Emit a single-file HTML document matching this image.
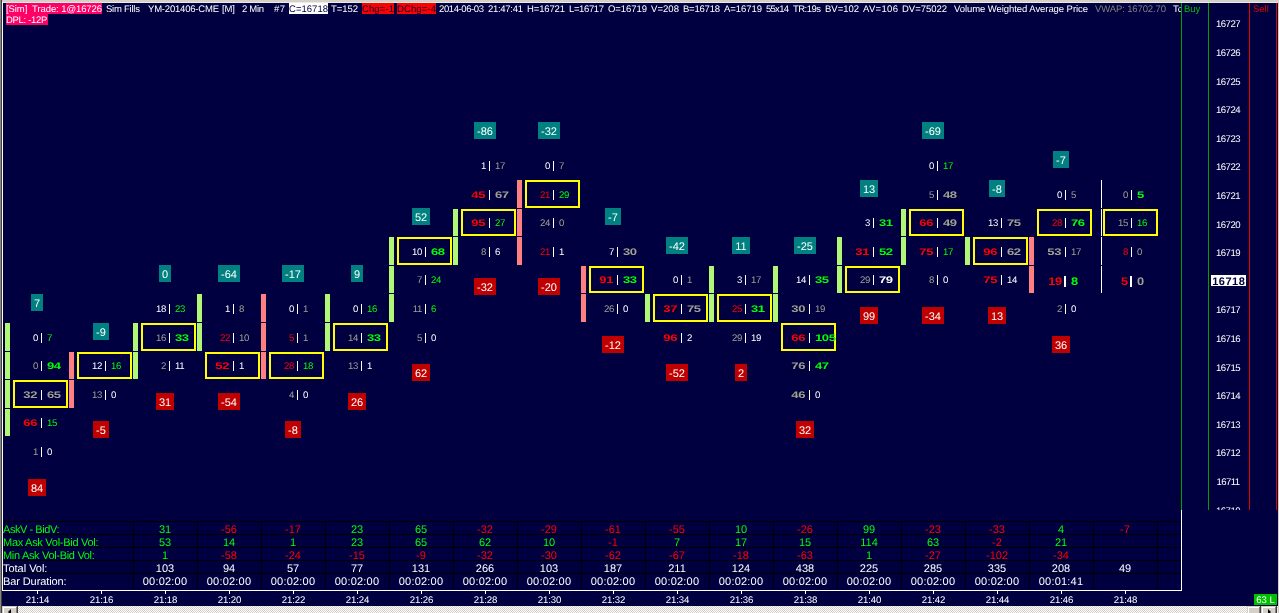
<!DOCTYPE html>
<html><head><meta charset="utf-8"><title>Chart</title>
<style>
html,body{margin:0;padding:0;background:#000040;}
body{width:1279px;height:613px;overflow:hidden;position:relative;font-family:"Liberation Sans",sans-serif;text-rendering:geometricPrecision;}
#root{position:absolute;left:0;top:0;width:1279px;height:613px;overflow:hidden;will-change:transform;}
#root div{position:absolute;}
.bg{background:#b2f676;width:5px;}
.bp{background:#ff8080;width:5px;}
.bl{background:#ffffff;width:1px;}
.yb{border:2px solid #ffff00;width:51px;}
.tx{font-size:9.6px;letter-spacing:-0.3px;line-height:14px;height:14px;width:60px;white-space:nowrap;}
.tx i{font-style:normal;display:inline-block;}
.tx.r{text-align:right;}
.tx.l{text-align:left;}
.tx.r i{transform-origin:100% 50%;}
.tx.l i{transform-origin:0 50%;}
.bd{font-weight:bold;}
.bd i{transform:scaleX(1.36);}
.tx.big{font-size:11px;font-weight:bold;}
.tx.big i{transform:scaleX(1.16);}
.cw{color:#ffffff;} .cg{color:#a0a090;} .cG{color:#00ff00;} .cR{color:#ff0000;}
.sp{background:#fff;width:1px;height:10px;}
.sp2{background:#fff;width:2px;height:11px;}
.bx{height:17px;line-height:21px;font-size:11px;color:#fff;text-align:center;overflow:hidden;}
.tl{background:#008080;}
.rd{background:#c00000;}
.ax{left:1208px;width:40px;text-align:center;font-size:9.6px;letter-spacing:-0.55px;line-height:13px;height:13px;color:#fff;}
.h{top:3px;height:11px;line-height:11px;font-size:9.5px;color:#fff;white-space:nowrap;overflow:visible;}
.h span{display:inline-block;white-space:nowrap;position:relative;top:1px;}
.pk{background:#ff0066;} .wh{background:#fff;color:#000040;} .rb{background:#ff0000;color:#000040;} .gy{color:#808080;}
.tl2{left:3px;font-size:11px;letter-spacing:-0.28px;line-height:12px;height:12px;white-space:nowrap;margin-top:2px;}
.tv{width:64px;text-align:center;font-size:11px;line-height:12px;height:12px;margin-top:2px;}
.hl{left:3px;width:1178px;height:1px;background:#000;}
.vl{top:521px;width:1px;height:68px;background:#000;}
.tk{top:591px;width:1px;height:3px;background:#fff;}
.tm{top:594px;width:41px;text-align:center;font-size:9.6px;letter-spacing:-0.1px;line-height:13px;height:13px;color:#fff;}
</style></head><body>
<div id="root">
<!-- window chrome -->
<div style="left:0;top:0;width:1279px;height:2px;background:#d4d0c8"></div>
<div style="left:0;top:2px;width:1279px;height:1px;background:#e8ece4"></div>
<div style="left:0;top:0;width:1px;height:613px;background:#868686"></div>
<div style="left:1px;top:0;width:1px;height:613px;background:#404040"></div>
<div style="left:2px;top:2px;width:1px;height:589px;background:#ffffff"></div>
<div style="left:1278px;top:0;width:1px;height:613px;background:#d4d0c8"></div>
<!-- header -->
<div class="h pk" id="h0" style="left:6px;width:96px"><span style="letter-spacing:-0.092px">[Sim]&nbsp; Trade: 1@16726</span></div>
<div class="h " id="h1" style="left:106px;width:34px"><span style="letter-spacing:-0.236px">Sim Fills</span></div>
<div class="h " id="h2" style="left:148px;width:71px"><span style="letter-spacing:-0.199px">YM-201406-CME</span></div>
<div class="h " id="h3" style="left:222px;width:13px"><span style="letter-spacing:-0.102px">[M]</span></div>
<div class="h " id="h4" style="left:242px;width:22px"><span style="letter-spacing:-0.309px">2 Min</span></div>
<div class="h " id="h5" style="left:274px;width:11px"><span style="letter-spacing:0.422px">#7</span></div>
<div class="h wh" id="h6" style="left:289px;width:39px"><span style="letter-spacing:0.029px">C=16718</span></div>
<div class="h " id="h7" style="left:331px;width:27px"><span style="letter-spacing:-0.051px">T=152</span></div>
<div class="h rb" id="h8" style="left:362px;width:32px"><span style="letter-spacing:0.113px">Chg=-1</span></div>
<div class="h rb" id="h9" style="left:397px;width:39px"><span style="letter-spacing:0.117px">DChg=-4</span></div>
<div class="h " id="h10" style="left:439px;width:45px"><span style="letter-spacing:-0.401px">2014-06-03</span></div>
<div class="h " id="h11" style="left:488px;width:35px"><span style="letter-spacing:-0.283px">21:47:41</span></div>
<div class="h " id="h12" style="left:527px;width:38px"><span style="letter-spacing:-0.138px">H=16721</span></div>
<div class="h " id="h13" style="left:569px;width:35px"><span style="letter-spacing:-0.375px">L=16717</span></div>
<div class="h " id="h14" style="left:608px;width:39px"><span style="letter-spacing:-0.060px">O=16719</span></div>
<div class="h " id="h15" style="left:651px;width:28px"><span style="letter-spacing:0.062px">V=208</span></div>
<div class="h " id="h16" style="left:683px;width:37px"><span style="letter-spacing:-0.219px">B=16718</span></div>
<div class="h " id="h17" style="left:724px;width:38px"><span style="letter-spacing:-0.052px">A=16719</span></div>
<div class="h " id="h18" style="left:766px;width:23px"><span style="letter-spacing:-0.723px">55x14</span></div>
<div class="h " id="h19" style="left:793px;width:28px"><span style="letter-spacing:-0.525px">TR:19s</span></div>
<div class="h " id="h20" style="left:825px;width:34px"><span style="letter-spacing:-0.016px">BV=102</span></div>
<div class="h " id="h21" style="left:863px;width:35px"><span style="letter-spacing:0.325px">AV=106</span></div>
<div class="h " id="h22" style="left:902px;width:45px"><span style="letter-spacing:-0.025px">DV=75022</span></div>
<div class="h " id="h23" style="left:954px;width:134px"><span style="letter-spacing:-0.068px">Volume Weighted Average Price</span></div>
<div class="h gy" id="h24" style="left:1095px;width:71px"><span style="letter-spacing:-0.118px">VWAP: 16702.70</span></div>
<div class="h pk" style="left:6px;top:14px;width:42px"><span style="letter-spacing:-0.3px">DPL: -12P</span></div>
<div class="h" style="left:1173px;width:8px;overflow:hidden"><span>To</span></div>
<!-- right panel -->
<div style="left:1181px;top:3px;width:1px;height:507px;background:#00a000"></div>
<div style="left:1208px;top:3px;width:1px;height:507px;background:#00a000"></div>
<div style="left:1249px;top:3px;width:1px;height:507px;background:#e80000"></div>
<div style="left:1276px;top:3px;width:1px;height:507px;background:#e80000"></div>
<div class="h" style="left:1184px;color:#00c000"><span>Buy</span></div>
<div class="h" style="left:1253px;color:#e00000"><span>Sell</span></div>
<div class="ax" style="top:18px">16727</div>
<div class="ax" style="top:47px">16726</div>
<div class="ax" style="top:76px">16725</div>
<div class="ax" style="top:104px">16724</div>
<div class="ax" style="top:133px">16723</div>
<div class="ax" style="top:161px">16722</div>
<div class="ax" style="top:190px">16721</div>
<div class="ax" style="top:219px">16720</div>
<div class="ax" style="top:247px">16719</div>
<div class="ax" style="top:304px">16717</div>
<div class="ax" style="top:333px">16716</div>
<div class="ax" style="top:362px">16715</div>
<div class="ax" style="top:390px">16714</div>
<div class="ax" style="top:419px">16713</div>
<div class="ax" style="top:447px">16712</div>
<div class="ax" style="top:476px">16711</div>
<div class="ax" style="top:505px">16710</div>
<div style="left:1211px;top:275px;width:35px;height:11px;background:#fff;color:#000040;font-size:11px;font-weight:bold;line-height:15px;text-align:center;letter-spacing:0.5px;text-indent:0.5px;overflow:hidden">16718</div>
<!-- mask below chart -->
<div style="left:1182px;top:510px;width:96px;height:96px;background:#000040"></div>
<!-- chart -->
<div class="bg" style="left:5px;top:323px;height:28px"></div>
<div class="bg" style="left:5px;top:352px;height:27px"></div>
<div class="bg" style="left:5px;top:380px;height:28px"></div>
<div class="bg" style="left:5px;top:409px;height:27px"></div>
<div class="tx r cw" style="left:-22px;top:332px"><i>0</i></div>
<div class="sp" style="left:41px;top:333px"></div>
<div class="tx l cG" style="left:47px;top:332px"><i>7</i></div>
<div class="tx r cg" style="left:-22px;top:360px"><i>0</i></div>
<div class="sp" style="left:41px;top:361px"></div>
<div class="tx l cG bd" style="left:47px;top:360px"><i>94</i></div>
<div class="yb" style="left:13px;top:380px;height:24px"></div>
<div class="tx r cg bd" style="left:-23px;top:389px"><i>32</i></div>
<div class="sp" style="left:41px;top:390px"></div>
<div class="tx l cg bd" style="left:47px;top:389px"><i>65</i></div>
<div class="tx r cR bd" style="left:-23px;top:417px"><i>66</i></div>
<div class="sp" style="left:41px;top:418px"></div>
<div class="tx l cG" style="left:47px;top:417px"><i>15</i></div>
<div class="tx r cg" style="left:-22px;top:446px"><i>1</i></div>
<div class="sp" style="left:41px;top:447px"></div>
<div class="tx l cw" style="left:47px;top:446px"><i>0</i></div>
<div class="bx tl" style="left:31px;top:294px;width:12px">7</div>
<div class="bx rd" style="left:28px;top:479px;width:18px">84</div>
<div class="bp" style="left:69px;top:352px;height:27px"></div>
<div class="bp" style="left:69px;top:380px;height:28px"></div>
<div class="yb" style="left:77px;top:352px;height:23px"></div>
<div class="tx r cw" style="left:42px;top:360px"><i>12</i></div>
<div class="sp" style="left:105px;top:361px"></div>
<div class="tx l cG" style="left:111px;top:360px"><i>16</i></div>
<div class="tx r cg" style="left:42px;top:389px"><i>13</i></div>
<div class="sp" style="left:105px;top:390px"></div>
<div class="tx l cw" style="left:111px;top:389px"><i>0</i></div>
<div class="bx tl" style="left:93px;top:323px;width:16px">-9</div>
<div class="bx rd" style="left:93px;top:421px;width:16px">-5</div>
<div class="bg" style="left:133px;top:323px;height:28px"></div>
<div class="bg" style="left:133px;top:352px;height:27px"></div>
<div class="tx r cw" style="left:106px;top:303px"><i>18</i></div>
<div class="sp" style="left:169px;top:304px"></div>
<div class="tx l cG" style="left:175px;top:303px"><i>23</i></div>
<div class="yb" style="left:141px;top:323px;height:24px"></div>
<div class="tx r cg" style="left:106px;top:332px"><i>16</i></div>
<div class="sp" style="left:169px;top:333px"></div>
<div class="tx l cG bd" style="left:175px;top:332px"><i>33</i></div>
<div class="tx r cg" style="left:106px;top:360px"><i>2</i></div>
<div class="sp" style="left:169px;top:361px"></div>
<div class="tx l cw" style="left:175px;top:360px"><i>11</i></div>
<div class="bx tl" style="left:159px;top:265px;width:12px">0</div>
<div class="bx rd" style="left:156px;top:393px;width:18px">31</div>
<div class="bg" style="left:197px;top:294px;height:28px"></div>
<div class="bg" style="left:197px;top:323px;height:28px"></div>
<div class="tx r cw" style="left:170px;top:303px"><i>1</i></div>
<div class="sp" style="left:233px;top:304px"></div>
<div class="tx l cg" style="left:239px;top:303px"><i>8</i></div>
<div class="tx r cR" style="left:170px;top:332px"><i>22</i></div>
<div class="sp" style="left:233px;top:333px"></div>
<div class="tx l cg" style="left:239px;top:332px"><i>10</i></div>
<div class="yb" style="left:205px;top:352px;height:23px"></div>
<div class="tx r cR bd" style="left:169px;top:360px"><i>52</i></div>
<div class="sp" style="left:233px;top:361px"></div>
<div class="tx l cw" style="left:239px;top:360px"><i>1</i></div>
<div class="bx tl" style="left:218px;top:265px;width:22px">-64</div>
<div class="bx rd" style="left:218px;top:393px;width:22px">-54</div>
<div class="bp" style="left:261px;top:294px;height:28px"></div>
<div class="bp" style="left:261px;top:323px;height:28px"></div>
<div class="bp" style="left:261px;top:352px;height:27px"></div>
<div class="tx r cw" style="left:234px;top:303px"><i>0</i></div>
<div class="sp" style="left:297px;top:304px"></div>
<div class="tx l cg" style="left:303px;top:303px"><i>1</i></div>
<div class="tx r cR" style="left:234px;top:332px"><i>5</i></div>
<div class="sp" style="left:297px;top:333px"></div>
<div class="tx l cg" style="left:303px;top:332px"><i>1</i></div>
<div class="yb" style="left:269px;top:352px;height:23px"></div>
<div class="tx r cR" style="left:234px;top:360px"><i>28</i></div>
<div class="sp" style="left:297px;top:361px"></div>
<div class="tx l cG" style="left:303px;top:360px"><i>18</i></div>
<div class="tx r cg" style="left:234px;top:389px"><i>4</i></div>
<div class="sp" style="left:297px;top:390px"></div>
<div class="tx l cw" style="left:303px;top:389px"><i>0</i></div>
<div class="bx tl" style="left:282px;top:265px;width:22px">-17</div>
<div class="bx rd" style="left:285px;top:421px;width:16px">-8</div>
<div class="bg" style="left:325px;top:294px;height:28px"></div>
<div class="bg" style="left:325px;top:323px;height:28px"></div>
<div class="tx r cw" style="left:298px;top:303px"><i>0</i></div>
<div class="sp" style="left:361px;top:304px"></div>
<div class="tx l cG" style="left:367px;top:303px"><i>16</i></div>
<div class="yb" style="left:333px;top:323px;height:24px"></div>
<div class="tx r cg" style="left:298px;top:332px"><i>14</i></div>
<div class="sp" style="left:361px;top:333px"></div>
<div class="tx l cG bd" style="left:367px;top:332px"><i>33</i></div>
<div class="tx r cg" style="left:298px;top:360px"><i>13</i></div>
<div class="sp" style="left:361px;top:361px"></div>
<div class="tx l cw" style="left:367px;top:360px"><i>1</i></div>
<div class="bx tl" style="left:351px;top:265px;width:12px">9</div>
<div class="bx rd" style="left:348px;top:393px;width:18px">26</div>
<div class="bg" style="left:389px;top:237px;height:28px"></div>
<div class="bg" style="left:389px;top:266px;height:27px"></div>
<div class="bg" style="left:389px;top:294px;height:28px"></div>
<div class="yb" style="left:397px;top:237px;height:24px"></div>
<div class="tx r cw" style="left:362px;top:246px"><i>10</i></div>
<div class="sp" style="left:425px;top:247px"></div>
<div class="tx l cG bd" style="left:431px;top:246px"><i>68</i></div>
<div class="tx r cg" style="left:362px;top:274px"><i>7</i></div>
<div class="sp" style="left:425px;top:275px"></div>
<div class="tx l cG" style="left:431px;top:274px"><i>24</i></div>
<div class="tx r cg" style="left:362px;top:303px"><i>11</i></div>
<div class="sp" style="left:425px;top:304px"></div>
<div class="tx l cG" style="left:431px;top:303px"><i>6</i></div>
<div class="tx r cg" style="left:362px;top:332px"><i>5</i></div>
<div class="sp" style="left:425px;top:333px"></div>
<div class="tx l cw" style="left:431px;top:332px"><i>0</i></div>
<div class="bx tl" style="left:412px;top:208px;width:18px">52</div>
<div class="bx rd" style="left:412px;top:364px;width:18px">62</div>
<div class="bg" style="left:453px;top:209px;height:27px"></div>
<div class="bg" style="left:453px;top:237px;height:28px"></div>
<div class="tx r cw" style="left:426px;top:160px"><i>1</i></div>
<div class="sp" style="left:489px;top:161px"></div>
<div class="tx l cg" style="left:495px;top:160px"><i>17</i></div>
<div class="tx r cR bd" style="left:425px;top:189px"><i>45</i></div>
<div class="sp" style="left:489px;top:190px"></div>
<div class="tx l cg bd" style="left:495px;top:189px"><i>67</i></div>
<div class="yb" style="left:461px;top:209px;height:23px"></div>
<div class="tx r cR bd" style="left:425px;top:217px"><i>95</i></div>
<div class="sp" style="left:489px;top:218px"></div>
<div class="tx l cG" style="left:495px;top:217px"><i>27</i></div>
<div class="tx r cg" style="left:426px;top:246px"><i>8</i></div>
<div class="sp" style="left:489px;top:247px"></div>
<div class="tx l cw" style="left:495px;top:246px"><i>6</i></div>
<div class="bx tl" style="left:474px;top:122px;width:22px">-86</div>
<div class="bx rd" style="left:474px;top:278px;width:22px">-32</div>
<div class="bp" style="left:517px;top:180px;height:28px"></div>
<div class="bp" style="left:517px;top:209px;height:27px"></div>
<div class="bp" style="left:517px;top:237px;height:28px"></div>
<div class="tx r cw" style="left:490px;top:160px"><i>0</i></div>
<div class="sp" style="left:553px;top:161px"></div>
<div class="tx l cg" style="left:559px;top:160px"><i>7</i></div>
<div class="yb" style="left:525px;top:180px;height:24px"></div>
<div class="tx r cR" style="left:490px;top:189px"><i>21</i></div>
<div class="sp" style="left:553px;top:190px"></div>
<div class="tx l cG" style="left:559px;top:189px"><i>29</i></div>
<div class="tx r cg" style="left:490px;top:217px"><i>24</i></div>
<div class="sp" style="left:553px;top:218px"></div>
<div class="tx l cg" style="left:559px;top:217px"><i>0</i></div>
<div class="tx r cR" style="left:490px;top:246px"><i>21</i></div>
<div class="sp" style="left:553px;top:247px"></div>
<div class="tx l cw" style="left:559px;top:246px"><i>1</i></div>
<div class="bx tl" style="left:538px;top:122px;width:22px">-32</div>
<div class="bx rd" style="left:538px;top:278px;width:22px">-20</div>
<div class="bp" style="left:581px;top:266px;height:27px"></div>
<div class="bp" style="left:581px;top:294px;height:28px"></div>
<div class="tx r cw" style="left:554px;top:246px"><i>7</i></div>
<div class="sp" style="left:617px;top:247px"></div>
<div class="tx l cg bd" style="left:623px;top:246px"><i>30</i></div>
<div class="yb" style="left:589px;top:266px;height:23px"></div>
<div class="tx r cR bd" style="left:553px;top:274px"><i>91</i></div>
<div class="sp" style="left:617px;top:275px"></div>
<div class="tx l cG bd" style="left:623px;top:274px"><i>33</i></div>
<div class="tx r cg" style="left:554px;top:303px"><i>26</i></div>
<div class="sp" style="left:617px;top:304px"></div>
<div class="tx l cw" style="left:623px;top:303px"><i>0</i></div>
<div class="bx tl" style="left:605px;top:208px;width:16px">-7</div>
<div class="bx rd" style="left:602px;top:336px;width:22px">-12</div>
<div class="bg" style="left:645px;top:294px;height:28px"></div>
<div class="tx r cw" style="left:618px;top:274px"><i>0</i></div>
<div class="sp" style="left:681px;top:275px"></div>
<div class="tx l cg" style="left:687px;top:274px"><i>1</i></div>
<div class="yb" style="left:653px;top:294px;height:24px"></div>
<div class="tx r cR bd" style="left:617px;top:303px"><i>37</i></div>
<div class="sp" style="left:681px;top:304px"></div>
<div class="tx l cg bd" style="left:687px;top:303px"><i>75</i></div>
<div class="tx r cR bd" style="left:617px;top:332px"><i>96</i></div>
<div class="sp" style="left:681px;top:333px"></div>
<div class="tx l cw" style="left:687px;top:332px"><i>2</i></div>
<div class="bx tl" style="left:666px;top:237px;width:22px">-42</div>
<div class="bx rd" style="left:666px;top:364px;width:22px">-52</div>
<div class="bg" style="left:709px;top:266px;height:27px"></div>
<div class="bg" style="left:709px;top:294px;height:28px"></div>
<div class="tx r cw" style="left:682px;top:274px"><i>3</i></div>
<div class="sp" style="left:745px;top:275px"></div>
<div class="tx l cg" style="left:751px;top:274px"><i>17</i></div>
<div class="yb" style="left:717px;top:294px;height:24px"></div>
<div class="tx r cR" style="left:682px;top:303px"><i>25</i></div>
<div class="sp" style="left:745px;top:304px"></div>
<div class="tx l cG bd" style="left:751px;top:303px"><i>31</i></div>
<div class="tx r cg" style="left:682px;top:332px"><i>29</i></div>
<div class="sp" style="left:745px;top:333px"></div>
<div class="tx l cw" style="left:751px;top:332px"><i>19</i></div>
<div class="bx tl" style="left:732px;top:237px;width:18px">11</div>
<div class="bx rd" style="left:735px;top:364px;width:12px">2</div>
<div class="bg" style="left:773px;top:266px;height:27px"></div>
<div class="bg" style="left:773px;top:294px;height:28px"></div>
<div class="tx r cw" style="left:746px;top:274px"><i>14</i></div>
<div class="sp" style="left:809px;top:275px"></div>
<div class="tx l cG bd" style="left:815px;top:274px"><i>35</i></div>
<div class="tx r cg bd" style="left:745px;top:303px"><i>30</i></div>
<div class="sp" style="left:809px;top:304px"></div>
<div class="tx l cg" style="left:815px;top:303px"><i>19</i></div>
<div class="yb" style="left:781px;top:323px;height:24px"></div>
<div class="tx r cR bd" style="left:745px;top:332px"><i>66</i></div>
<div class="sp" style="left:809px;top:333px"></div>
<div class="tx l cG bd" style="left:815px;top:332px"><i>105</i></div>
<div class="tx r cg bd" style="left:745px;top:360px"><i>76</i></div>
<div class="sp" style="left:809px;top:361px"></div>
<div class="tx l cG bd" style="left:815px;top:360px"><i>47</i></div>
<div class="tx r cg bd" style="left:745px;top:389px"><i>46</i></div>
<div class="sp" style="left:809px;top:390px"></div>
<div class="tx l cw" style="left:815px;top:389px"><i>0</i></div>
<div class="bx tl" style="left:794px;top:237px;width:22px">-25</div>
<div class="bx rd" style="left:796px;top:421px;width:18px">32</div>
<div class="bg" style="left:837px;top:237px;height:28px"></div>
<div class="bg" style="left:837px;top:266px;height:27px"></div>
<div class="tx r cw" style="left:810px;top:217px"><i>3</i></div>
<div class="sp" style="left:873px;top:218px"></div>
<div class="tx l cG bd" style="left:879px;top:217px"><i>31</i></div>
<div class="tx r cR bd" style="left:809px;top:246px"><i>31</i></div>
<div class="sp" style="left:873px;top:247px"></div>
<div class="tx l cG bd" style="left:879px;top:246px"><i>52</i></div>
<div class="yb" style="left:845px;top:266px;height:23px"></div>
<div class="tx r cg" style="left:810px;top:274px"><i>29</i></div>
<div class="sp" style="left:873px;top:275px"></div>
<div class="tx l cw bd" style="left:879px;top:274px"><i>79</i></div>
<div class="bx tl" style="left:860px;top:180px;width:18px">13</div>
<div class="bx rd" style="left:860px;top:307px;width:18px">99</div>
<div class="bg" style="left:901px;top:209px;height:27px"></div>
<div class="bg" style="left:901px;top:237px;height:28px"></div>
<div class="tx r cw" style="left:874px;top:160px"><i>0</i></div>
<div class="sp" style="left:937px;top:161px"></div>
<div class="tx l cG" style="left:943px;top:160px"><i>17</i></div>
<div class="tx r cg" style="left:874px;top:189px"><i>5</i></div>
<div class="sp" style="left:937px;top:190px"></div>
<div class="tx l cg bd" style="left:943px;top:189px"><i>48</i></div>
<div class="yb" style="left:909px;top:209px;height:23px"></div>
<div class="tx r cR bd" style="left:873px;top:217px"><i>66</i></div>
<div class="sp" style="left:937px;top:218px"></div>
<div class="tx l cg bd" style="left:943px;top:217px"><i>49</i></div>
<div class="tx r cR bd" style="left:873px;top:246px"><i>75</i></div>
<div class="sp" style="left:937px;top:247px"></div>
<div class="tx l cG" style="left:943px;top:246px"><i>17</i></div>
<div class="tx r cg" style="left:874px;top:274px"><i>8</i></div>
<div class="sp" style="left:937px;top:275px"></div>
<div class="tx l cw" style="left:943px;top:274px"><i>0</i></div>
<div class="bx tl" style="left:922px;top:122px;width:22px">-69</div>
<div class="bx rd" style="left:922px;top:307px;width:22px">-34</div>
<div class="bg" style="left:965px;top:237px;height:28px"></div>
<div class="tx r cw" style="left:938px;top:217px"><i>13</i></div>
<div class="sp" style="left:1001px;top:218px"></div>
<div class="tx l cg bd" style="left:1007px;top:217px"><i>75</i></div>
<div class="yb" style="left:973px;top:237px;height:24px"></div>
<div class="tx r cR bd" style="left:937px;top:246px"><i>96</i></div>
<div class="sp" style="left:1001px;top:247px"></div>
<div class="tx l cg bd" style="left:1007px;top:246px"><i>62</i></div>
<div class="tx r cR bd" style="left:937px;top:274px"><i>75</i></div>
<div class="sp" style="left:1001px;top:275px"></div>
<div class="tx l cw" style="left:1007px;top:274px"><i>14</i></div>
<div class="bx tl" style="left:989px;top:180px;width:16px">-8</div>
<div class="bx rd" style="left:988px;top:307px;width:18px">13</div>
<div class="bp" style="left:1029px;top:237px;height:28px"></div>
<div class="bp" style="left:1029px;top:266px;height:27px"></div>
<div class="tx r cw" style="left:1002px;top:189px"><i>0</i></div>
<div class="sp" style="left:1065px;top:190px"></div>
<div class="tx l cg" style="left:1071px;top:189px"><i>5</i></div>
<div class="yb" style="left:1037px;top:209px;height:23px"></div>
<div class="tx r cR" style="left:1002px;top:217px"><i>28</i></div>
<div class="sp" style="left:1065px;top:218px"></div>
<div class="tx l cG bd" style="left:1071px;top:217px"><i>76</i></div>
<div class="tx r cg bd" style="left:1001px;top:246px"><i>53</i></div>
<div class="sp" style="left:1065px;top:247px"></div>
<div class="tx l cg" style="left:1071px;top:246px"><i>17</i></div>
<div class="tx r cR big" style="left:1002px;top:275px"><i>19</i></div>
<div class="sp2" style="left:1064px;top:276px"></div>
<div class="tx l cG big" style="left:1071px;top:275px"><i>8</i></div>
<div class="tx r cg" style="left:1002px;top:303px"><i>2</i></div>
<div class="sp" style="left:1065px;top:304px"></div>
<div class="tx l cw" style="left:1071px;top:303px"><i>0</i></div>
<div class="bx tl" style="left:1053px;top:151px;width:16px">-7</div>
<div class="bx rd" style="left:1052px;top:336px;width:18px">36</div>
<div class="bl" style="left:1101px;top:180px;height:28px"></div>
<div class="bl" style="left:1101px;top:209px;height:27px"></div>
<div class="bl" style="left:1101px;top:237px;height:28px"></div>
<div class="bl" style="left:1101px;top:266px;height:27px"></div>
<div class="tx r cg" style="left:1068px;top:189px"><i>0</i></div>
<div class="sp" style="left:1131px;top:190px"></div>
<div class="tx l cG bd" style="left:1137px;top:189px"><i>5</i></div>
<div class="yb" style="left:1103px;top:209px;height:23px"></div>
<div class="tx r cg" style="left:1068px;top:217px"><i>15</i></div>
<div class="sp" style="left:1131px;top:218px"></div>
<div class="tx l cG" style="left:1137px;top:217px"><i>16</i></div>
<div class="tx r cR" style="left:1068px;top:246px"><i>8</i></div>
<div class="sp" style="left:1131px;top:247px"></div>
<div class="tx l cg" style="left:1137px;top:246px"><i>0</i></div>
<div class="tx r cR big" style="left:1068px;top:275px"><i>5</i></div>
<div class="sp2" style="left:1130px;top:276px"></div>
<div class="tx l cg big" style="left:1137px;top:275px"><i>0</i></div>
<!-- table -->
<div class="tl2" id="L0" style="top:522px;color:#00ff00;letter-spacing:-0.440px">AskV - BidV:</div>
<div class="tv" style="left:133px;top:522px;color:#00ff00">31</div>
<div class="tv" style="left:197px;top:522px;color:#ff0000">-56</div>
<div class="tv" style="left:261px;top:522px;color:#ff0000">-17</div>
<div class="tv" style="left:325px;top:522px;color:#00ff00">23</div>
<div class="tv" style="left:389px;top:522px;color:#00ff00">65</div>
<div class="tv" style="left:453px;top:522px;color:#ff0000">-32</div>
<div class="tv" style="left:517px;top:522px;color:#ff0000">-29</div>
<div class="tv" style="left:581px;top:522px;color:#ff0000">-61</div>
<div class="tv" style="left:645px;top:522px;color:#ff0000">-55</div>
<div class="tv" style="left:709px;top:522px;color:#00ff00">10</div>
<div class="tv" style="left:773px;top:522px;color:#ff0000">-26</div>
<div class="tv" style="left:837px;top:522px;color:#00ff00">99</div>
<div class="tv" style="left:901px;top:522px;color:#ff0000">-23</div>
<div class="tv" style="left:965px;top:522px;color:#ff0000">-33</div>
<div class="tv" style="left:1029px;top:522px;color:#00ff00">4</div>
<div class="tv" style="left:1093px;top:522px;color:#ff0000">-7</div>
<div class="tl2" id="L1" style="top:535px;color:#00ff00;letter-spacing:-0.283px">Max Ask Vol-Bid Vol:</div>
<div class="tv" style="left:133px;top:535px;color:#00ff00">53</div>
<div class="tv" style="left:197px;top:535px;color:#00ff00">14</div>
<div class="tv" style="left:261px;top:535px;color:#00ff00">1</div>
<div class="tv" style="left:325px;top:535px;color:#00ff00">23</div>
<div class="tv" style="left:389px;top:535px;color:#00ff00">65</div>
<div class="tv" style="left:453px;top:535px;color:#00ff00">62</div>
<div class="tv" style="left:517px;top:535px;color:#00ff00">10</div>
<div class="tv" style="left:581px;top:535px;color:#ff0000">-1</div>
<div class="tv" style="left:645px;top:535px;color:#00ff00">7</div>
<div class="tv" style="left:709px;top:535px;color:#00ff00">17</div>
<div class="tv" style="left:773px;top:535px;color:#00ff00">15</div>
<div class="tv" style="left:837px;top:535px;color:#00ff00">114</div>
<div class="tv" style="left:901px;top:535px;color:#00ff00">63</div>
<div class="tv" style="left:965px;top:535px;color:#ff0000">-2</div>
<div class="tv" style="left:1029px;top:535px;color:#00ff00">21</div>
<div class="tl2" id="L2" style="top:548px;color:#00ff00;letter-spacing:-0.318px">Min Ask Vol-Bid Vol:</div>
<div class="tv" style="left:133px;top:548px;color:#00ff00">1</div>
<div class="tv" style="left:197px;top:548px;color:#ff0000">-58</div>
<div class="tv" style="left:261px;top:548px;color:#ff0000">-24</div>
<div class="tv" style="left:325px;top:548px;color:#ff0000">-15</div>
<div class="tv" style="left:389px;top:548px;color:#ff0000">-9</div>
<div class="tv" style="left:453px;top:548px;color:#ff0000">-32</div>
<div class="tv" style="left:517px;top:548px;color:#ff0000">-30</div>
<div class="tv" style="left:581px;top:548px;color:#ff0000">-62</div>
<div class="tv" style="left:645px;top:548px;color:#ff0000">-67</div>
<div class="tv" style="left:709px;top:548px;color:#ff0000">-18</div>
<div class="tv" style="left:773px;top:548px;color:#ff0000">-63</div>
<div class="tv" style="left:837px;top:548px;color:#00ff00">1</div>
<div class="tv" style="left:901px;top:548px;color:#ff0000">-27</div>
<div class="tv" style="left:965px;top:548px;color:#ff0000">-102</div>
<div class="tv" style="left:1029px;top:548px;color:#ff0000">-34</div>
<div class="tl2" id="L3" style="top:561px;color:#ffffff;letter-spacing:-0.027px">Total Vol:</div>
<div class="tv" style="left:133px;top:561px;color:#ffffff">103</div>
<div class="tv" style="left:197px;top:561px;color:#ffffff">94</div>
<div class="tv" style="left:261px;top:561px;color:#ffffff">57</div>
<div class="tv" style="left:325px;top:561px;color:#ffffff">77</div>
<div class="tv" style="left:389px;top:561px;color:#ffffff">131</div>
<div class="tv" style="left:453px;top:561px;color:#ffffff">266</div>
<div class="tv" style="left:517px;top:561px;color:#ffffff">103</div>
<div class="tv" style="left:581px;top:561px;color:#ffffff">187</div>
<div class="tv" style="left:645px;top:561px;color:#ffffff">211</div>
<div class="tv" style="left:709px;top:561px;color:#ffffff">124</div>
<div class="tv" style="left:773px;top:561px;color:#ffffff">438</div>
<div class="tv" style="left:837px;top:561px;color:#ffffff">225</div>
<div class="tv" style="left:901px;top:561px;color:#ffffff">285</div>
<div class="tv" style="left:965px;top:561px;color:#ffffff">335</div>
<div class="tv" style="left:1029px;top:561px;color:#ffffff">208</div>
<div class="tv" style="left:1093px;top:561px;color:#ffffff">49</div>
<div class="tl2" id="L4" style="top:574px;color:#ffffff;letter-spacing:-0.101px">Bar Duration:</div>
<div class="tv" style="left:133px;top:574px;color:#ffffff;letter-spacing:0.2px">00:02:00</div>
<div class="tv" style="left:197px;top:574px;color:#ffffff;letter-spacing:0.2px">00:02:00</div>
<div class="tv" style="left:261px;top:574px;color:#ffffff;letter-spacing:0.2px">00:02:00</div>
<div class="tv" style="left:325px;top:574px;color:#ffffff;letter-spacing:0.2px">00:02:00</div>
<div class="tv" style="left:389px;top:574px;color:#ffffff;letter-spacing:0.2px">00:02:00</div>
<div class="tv" style="left:453px;top:574px;color:#ffffff;letter-spacing:0.2px">00:02:00</div>
<div class="tv" style="left:517px;top:574px;color:#ffffff;letter-spacing:0.2px">00:02:00</div>
<div class="tv" style="left:581px;top:574px;color:#ffffff;letter-spacing:0.2px">00:02:00</div>
<div class="tv" style="left:645px;top:574px;color:#ffffff;letter-spacing:0.2px">00:02:00</div>
<div class="tv" style="left:709px;top:574px;color:#ffffff;letter-spacing:0.2px">00:02:00</div>
<div class="tv" style="left:773px;top:574px;color:#ffffff;letter-spacing:0.2px">00:02:00</div>
<div class="tv" style="left:837px;top:574px;color:#ffffff;letter-spacing:0.2px">00:02:00</div>
<div class="tv" style="left:901px;top:574px;color:#ffffff;letter-spacing:0.2px">00:02:00</div>
<div class="tv" style="left:965px;top:574px;color:#ffffff;letter-spacing:0.2px">00:02:00</div>
<div class="tv" style="left:1029px;top:574px;color:#ffffff;letter-spacing:0.2px">00:01:41</div>
<div class="hl" style="top:521px"></div>
<div class="hl" style="top:534px"></div>
<div class="hl" style="top:547px"></div>
<div class="hl" style="top:560px"></div>
<div class="hl" style="top:573px"></div>
<div class="vl" style="left:133px"></div>
<div class="vl" style="left:197px"></div>
<div class="vl" style="left:261px"></div>
<div class="vl" style="left:325px"></div>
<div class="vl" style="left:389px"></div>
<div class="vl" style="left:453px"></div>
<div class="vl" style="left:517px"></div>
<div class="vl" style="left:581px"></div>
<div class="vl" style="left:645px"></div>
<div class="vl" style="left:709px"></div>
<div class="vl" style="left:773px"></div>
<div class="vl" style="left:837px"></div>
<div class="vl" style="left:901px"></div>
<div class="vl" style="left:965px"></div>
<div class="vl" style="left:1029px"></div>
<div class="vl" style="left:1093px"></div>
<div class="vl" style="left:1157px"></div>
<div style="left:2px;top:590px;width:1180px;height:1px;background:#fff"></div>
<div style="left:1181px;top:510px;width:1px;height:81px;background:#fff"></div>
<div class="tk" style="left:37px"></div>
<div class="tm" style="left:17px">21:14</div>
<div class="tk" style="left:101px"></div>
<div class="tm" style="left:81px">21:16</div>
<div class="tk" style="left:165px"></div>
<div class="tm" style="left:145px">21:18</div>
<div class="tk" style="left:229px"></div>
<div class="tm" style="left:209px">21:20</div>
<div class="tk" style="left:293px"></div>
<div class="tm" style="left:273px">21:22</div>
<div class="tk" style="left:357px"></div>
<div class="tm" style="left:337px">21:24</div>
<div class="tk" style="left:421px"></div>
<div class="tm" style="left:401px">21:26</div>
<div class="tk" style="left:485px"></div>
<div class="tm" style="left:465px">21:28</div>
<div class="tk" style="left:549px"></div>
<div class="tm" style="left:529px">21:30</div>
<div class="tk" style="left:613px"></div>
<div class="tm" style="left:593px">21:32</div>
<div class="tk" style="left:677px"></div>
<div class="tm" style="left:657px">21:34</div>
<div class="tk" style="left:741px"></div>
<div class="tm" style="left:721px">21:36</div>
<div class="tk" style="left:805px"></div>
<div class="tm" style="left:785px">21:38</div>
<div class="tk" style="left:869px"></div>
<div class="tm" style="left:849px">21:40</div>
<div class="tk" style="left:933px"></div>
<div class="tm" style="left:913px">21:42</div>
<div class="tk" style="left:997px"></div>
<div class="tm" style="left:977px">21:44</div>
<div class="tk" style="left:1061px"></div>
<div class="tm" style="left:1041px">21:46</div>
<div class="tk" style="left:1125px"></div>
<div class="tm" style="left:1105px">21:48</div>
<!-- 63 L -->
<div style="left:1254px;top:594px;width:23px;height:11px;background:#00c000;color:#fff;font-size:9.6px;line-height:13px;text-align:center;overflow:hidden">63 L</div>
<!-- scrollbar -->
<div style="left:2px;top:606px;width:1276px;height:7px;background:#eae8e4;background:repeating-conic-gradient(#ffffff 0% 25%, #d4d0c8 0% 50%) 0 0/2px 2px"></div>
<div style="left:2px;top:606px;width:16px;height:7px;background:#d4d0c8"></div>
<div style="left:3px;top:607px;width:13px;height:1px;background:#fff"></div>
<div style="left:3px;top:607px;width:1px;height:6px;background:#fff"></div>
<div style="left:16px;top:607px;width:1px;height:6px;background:#808080"></div>
<div style="left:17px;top:606px;width:1px;height:7px;background:#404040"></div>
<div style="left:1247px;top:606px;width:14px;height:7px;background:#d4d0c8"></div>
<div style="left:1248px;top:607px;width:11px;height:1px;background:#fff"></div>
<div style="left:1248px;top:607px;width:1px;height:6px;background:#fff"></div>
<div style="left:1259px;top:607px;width:1px;height:6px;background:#808080"></div>
<div style="left:1260px;top:606px;width:1px;height:7px;background:#404040"></div>
<div style="left:1261px;top:606px;width:16px;height:7px;background:#d4d0c8"></div>
<div style="left:1262px;top:607px;width:13px;height:1px;background:#fff"></div>
<div style="left:1262px;top:607px;width:1px;height:6px;background:#fff"></div>
<div style="left:1275px;top:607px;width:1px;height:6px;background:#808080"></div>
<div style="left:1276px;top:606px;width:1px;height:7px;background:#404040"></div>
<svg style="position:absolute;left:0;top:606px" width="1279" height="7" viewBox="0 606 1279 7"><path d="M11 609 L11 613 L9 613 L8 612 Z" fill="#000"/><path d="M1268 609 L1268 613 L1270 613 L1271 612 Z" fill="#000"/></svg>
</div>
</body></html>
